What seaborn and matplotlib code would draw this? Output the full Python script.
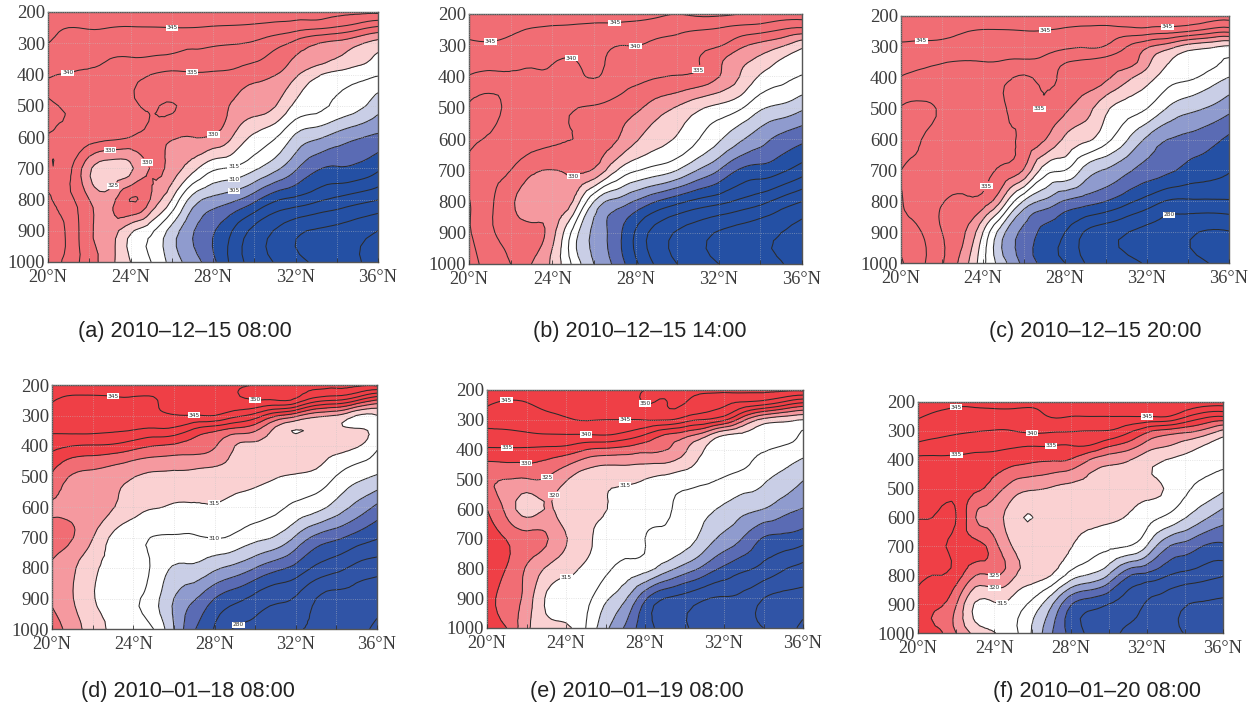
import numpy as np
import matplotlib
matplotlib.use("Agg")
import matplotlib.pyplot as plt
import matplotlib.tri as mtri
import seaborn as sns

# grille commune
lats = list(range(20, 37))
pressures = [200, 250, 300, 350, 400, 500, 600, 700, 800, 900, 1000]

# temperature pseudo-equivalente (K), une ligne par niveau
theta_a = [
    [350,350,350,350,350,350,350,350,350,350,349,348,347,347,346,346,346],
    [347,345,345.3,345,344.7,344.8,345,345,344.5,344.2,343.8,343,342,341,339.5,337,334],
    [345,343.5,343,342.5,342,341.5,341,340.8,340.5,340.2,339.5,337,333.5,330.3,328.5,326,323],
    [342.5,342,341,340,339.7,339.5,339,338.5,338,337.5,336,333,329.5,327.5,324.8,322,319],
    [340.2,339.8,339.5,339.2,337,335,334,334.3,334.2,333.5,331.5,330.2,326,321,318.5,317,315.5],
    [340.5,339.5,338.5,337.5,336,334.5,335.3,333,331.5,329.5,327.5,325.3,319,316.5,314,311.5,307],
    [339.8,338.5,337.5,336.5,335,333,330.5,330,329.5,324.5,319,315.5,309,306,303,300.6,299],
    [339.7,336.5,326,322,324,330.5,328,322,316,314.5,311,306.5,300.8,295.8,294.5,293.9,291],
    [340.6,336.5,330,328,335.3,329.5,320,308,303.5,301,296.5,291,288.7,286.2,284,282,280.2],
    [341.5,339,331,327.5,321,316,308,300.5,295.5,289.5,283.5,279.7,276.2,274.5,273.5,272,270],
    [343.5,338,332.5,326.5,320,315,308,302.5,296.3,288,283.2,279.7,276.8,274.3,272.8,270.5,268],
]
theta_b = [
    [350,350,349.5,349,349,348.5,348,347.5,347,346,345,346,346,345,344,343,343],
    [347,347,346,344.7,344.2,343.8,343.5,343.2,342.8,342,341,340.2,339.5,338,337,335,333.5],
    [344,344.5,343.5,343,342.5,341.5,341.5,340.2,340.1,339,338,336.5,335.5,331.5,328.5,325.8,321.5],
    [342,342,341,340.8,340.3,339.8,340.8,339,338.5,337.5,336.2,335.2,331,326.5,323.5,319.5,317.5],
    [339.8,339.3,339.6,339.5,339.4,339,340.3,338,336.5,335.4,334.8,334,330.2,325,319.5,316.5,314.7],
    [340.3,341,339,338,337,335.3,334.5,333.2,331,327.5,324.5,321,318.5,315.8,310.8,308.8,306],
    [340.8,339.5,338,337,336,335,333.5,330.7,325.8,322,319.5,315.3,310.8,306,302,298.5,296.2],
    [339,337,335,331,329.9,331,329.5,321,315.5,313,310,304.8,300,294.5,293,291,287.5],
    [340.2,336,331,327.5,328.5,324.8,310,303.5,299.5,295,291.5,288.5,286.5,284,281.5,278,275],
    [340.5,336,332.8,331.5,327,313.5,304,297.5,289.5,283,279.5,277,274.5,273,271.5,270,268],
    [342,338,335,330,324,314,305,299,291,284.2,280,277.5,275,273.5,272,270.2,268.5],
]
theta_c = [
    [350,350,350,350,350,350,350,350,350,350,350,349.5,349,348.5,348,347.5,347],
    [347.5,347,346.5,345.3,344.5,344.5,344.8,344.7,344,343.3,343,342.7,342.5,341.7,340,337.5,336],
    [344,343.7,343.5,343,342.7,342.3,342,341.5,340.8,340.3,339.5,335,330.6,327,322.5,320.8,319],
    [342,341,340.2,339.7,339.8,339.5,339,338.5,335.2,334,333,332,326.5,320.3,318.5,316.5,314.5],
    [339.8,339.2,338.8,338.3,336.5,336,334.5,336,334,332.5,331,326.5,322,317.5,316,313,309.8],
    [340.2,340.5,339.5,338,337.5,335.5,334,334.8,331,327,321,317.5,315,309.6,306.5,304.5,301.5],
    [341,340,338.5,337.5,337,335.7,334,330.3,324.2,321,316.5,310.5,304,300,298.5,296.8,294],
    [340,339.3,338.5,337,336.5,334,329.5,317.5,315,308,304.5,301,298,296,293.5,292,290.3],
    [340.2,338,335.3,334,333,323,309.5,304,299.5,297.3,295,291.5,288,284.6,284.2,284.3,284.5],
    [342,340,335,331,320,306,298.7,293.5,290,284.5,282.2,280.2,278.5,277,275.8,274.5,274.7],
    [345.5,341,335.5,328,316.5,306.5,298.5,293.5,290,284.8,283,281.5,279.5,278,276.5,275,273],
]
theta_d = [
    [347.5,348,348,348,348,348,348,348,348.5,349.5,350,350.5,351,351,351,351,351],
    [345.3,344,344,344.3,344.5,344.7,346.5,346.8,347,349,349.9,349.9,348.5,342,340,335.5,329.5],
    [343,343,343,343,343.5,344,344.8,344.8,345,341.5,338,331,326.5,321.5,319.7,314.9,314.8],
    [340.7,341,341,340.5,339.7,338.6,338,333.5,330.5,327.5,325.3,318.5,314.8,315.8,316,316,314],
    [336.5,335,334.5,334,332,330,329,327.5,325.5,320,319,318,317.5,317.3,316.5,315.5,310.8],
    [329.2,324.5,323.5,322,320.2,318.8,318.5,318,317.5,317,316.3,315.3,314.5,313.5,309.8,306.5,304.5],
    [324.5,323.5,322.5,320.3,317,315.3,314.6,314.6,314.8,313.6,312.5,311.2,308.9,306.8,303,298.5,293.9],
    [326.5,325.2,320.2,314,311.5,309.8,309.5,309.5,310.2,309,306.5,304.5,299.3,293.7,291,288,285.5],
    [324.7,321,316,314,312.5,309,304.5,304,301,298.5,295,291.5,288.5,284,281.5,278.5,277],
    [324.5,320.3,315.3,313.5,311,307,300,295.5,290,286.5,283.5,281,279.5,275,273.5,273,271.8],
    [326.5,323,317,314.3,312,310,300,290.5,284.7,279.5,278.5,277.3,275.5,274,272.7,271.5,269],
]
theta_e = [
    [348,348,348,348,348,348.5,349,349.5,350,351,351,351,351,351,351,351,351],
    [345.3,344,344.5,346,346.5,347,347.5,348,349.9,349.9,349.9,347.5,345.5,342.5,340,336,332],
    [341.5,342,342.5,343.5,344.5,345.2,345,345,345.2,345.3,342.5,339.8,336,326,318.5,316.5,315],
    [338.8,338.7,339.3,339.8,339.9,339.9,340.3,338.5,335,330,327.3,322.5,315.5,314,313,312,309.3],
    [334.3,334.4,334.3,333.8,333,330.2,329,328,326.5,325.3,321,315,313,312,310.5,309,307],
    [325.7,325,324.7,324.5,320.5,317,316,316,315,313.5,312.3,311,309.5,308,305.7,303.5,300.3],
    [330,323.5,318,320.3,317,316,315.2,313,312,311,308,306,304.2,301.5,300,297,294.8],
    [332,329.8,327,325.5,320.3,316.5,312.5,311.2,310,309,307.5,303,298.5,294.5,289.5,288.5,287],
    [333,329.8,324.5,319.5,316.5,314,311,308.5,307,302.5,298,293.5,289,286,283.5,280.5,278.5],
    [332,328,323,314.5,313,311.5,306,300.7,291,285,283,280.5,279.5,278.5,275,273.5,273],
    [334,330,321,317.5,316,310,301.3,294.3,287,283.5,280.5,278.8,278,276.5,275,272,269],
]
theta_f = [
    [348,347,345.7,346,346.5,347,347,348,349,349,349,349,349,349,349,348.5,348],
    [345.5,344,343.5,343.3,343.2,343,343,345.3,345,345,345,345,345,345.3,340.8,336.5,335],
    [342.2,341.5,340.8,340.2,339.8,340,340.8,340.6,340.3,340,339.8,336.5,331.5,328.5,326.5,323.8,319],
    [339,338,337.3,337,336.5,335.7,335.3,335.2,335,335,331,328,323,320.5,318,315,312.8],
    [333.9,334,334,333.5,333,332,331,330.5,329.7,325,322,320.5,317,315,313.5,312,311.5],
    [333.5,333.4,333.4,331,327.5,322.5,320.5,319.5,318.5,318,317.5,317,316,314.7,311,308.5,306],
    [334.8,335.5,335,325.2,322,317,314.95,317,316.5,316.2,315.7,314.7,312,309.3,305.3,301,297.2],
    [336.5,336,333.5,331.5,327,319.5,318.5,318,315.3,312.5,311,310,304.8,296,293,289.7,289],
    [336.5,335,332.5,325.2,325.3,321,317.5,315,308,304.5,299.7,291,288.5,285.5,283.5,282,280.4],
    [333,330.8,325.3,314.5,314.5,313,308.5,300.8,290.5,287,285,282.8,279.5,277.5,275.3,274.5,274.2],
    [333,331.2,325,318.5,315.2,311.5,304.5,295.5,288.7,284,281.8,279,278,276,274.9,274,274],
]

captions = ["(a) 2010\u201312\u201315 08:00", "(b) 2010\u201312\u201315 14:00", "(c) 2010\u201312\u201315 20:00",
            "(d) 2010\u201301\u201318 08:00", "(e) 2010\u201301\u201319 08:00", "(f) 2010\u201301\u201320 08:00"]
x_ticks = [20, 24, 28, 32, 36]
x_labels = ["20\u00b0N", "24\u00b0N", "28\u00b0N", "32\u00b0N", "36\u00b0N"]
y_ticks = [200, 300, 400, 500, 600, 700, 800, 900, 1000]

# positions des etiquettes d'isolignes (lat, pression)
labels_a = [(26, 255), (21, 415), (27, 385), (28, 590), (23, 645), (25, 675), (23, 745), (29, 696), (29, 733), (29, 770)]
labels_b = [(27, 230), (21, 272), (25, 322), (28, 310), (31, 380), (25, 718)]
labels_c = [(27, 240), (21, 280), (33, 212), (27, 515), (24, 745), (33, 826)]
labels_d = [(23, 245), (27, 305), (30, 245), (28, 597), (28, 708), (29, 965)]
labels_e = [(21, 238), (28, 247), (27, 310), (25, 350), (21, 390), (22, 440), (23, 490), (23, 545), (27, 535), (24, 855)]
labels_f = [(22, 210), (32, 255), (26, 285), (27, 360), (22, 375), (24, 805), (24, 845), (24.4, 900)]

# bornes des aplats : la ligne du haut et celle du bas n'ont pas la meme echelle
fill_top = [200, 295, 300, 305, 310, 320, 325, 330, 400]
colors_top = ["#2450a4", "#5a6bb4", "#8f9bce", "#c9cee6", "#ffffff", "#fad1d2", "#f5999f", "#f16d74"]
fill_bottom = [200, 290, 295, 300, 305, 315, 320, 325, 330, 400]
colors_bottom = ["#3054a6", "#5a6bb4", "#8f9bce", "#c9cee6", "#ffffff", "#fad1d2", "#f5999f", "#f16d74", "#ef3f46"]
line_levels = list(range(265, 356, 5))

sns.set_theme(style="white")
plt.rcParams["font.family"] = ["Liberation Serif", "DejaVu Serif"]

W, H = 1256, 706
# boites des axes en pixels : gauche, droite, haut, bas
boxes = [(48, 378, 12, 262), (469, 802, 14, 264), (901, 1229, 16, 263),
         (52, 377, 385, 629), (487, 803, 390, 628), (918, 1223, 402, 633)]
caption_pos = [(185, 331), (640, 331), (1095, 331), (188, 691), (637, 691), (1097, 691)]
panels = [theta_a, theta_b, theta_c, theta_d, theta_e, theta_f]
panel_labels = [labels_a, labels_b, labels_c, labels_d, labels_e, labels_f]

fig = plt.figure(figsize=(W / 100, H / 100), dpi=100)
X, Y = np.meshgrid(lats, pressures)
# la pression est remise a l'echelle pour que la triangulation reste reguliere
tri = mtri.Triangulation(X.ravel(), Y.ravel() / 100.0)
refiner = mtri.UniformTriRefiner(tri)

for i, theta in enumerate(panels):
    l, r, t, b = boxes[i]
    ax = fig.add_axes([l / W, 1 - b / H, (r - l) / W, (b - t) / H])
    Z = np.array(theta, dtype=float).ravel()
    fine, fine_z = refiner.refine_field(Z, subdiv=2)
    fine = mtri.Triangulation(fine.x, fine.y * 100.0, fine.triangles)
    top = i < 3
    ax.tricontourf(fine, fine_z, levels=fill_top if top else fill_bottom,
                   colors=sns.color_palette(colors_top if top else colors_bottom))
    cs = ax.tricontour(fine, fine_z, levels=line_levels, colors="#2b2b2b", linewidths=0.75)
    texts = ax.clabel(cs, fmt="%d", fontsize=4.2, inline=True, inline_spacing=1, manual=panel_labels[i])
    for txt in texts:
        txt.set_rotation(0)
        txt.set_family("DejaVu Sans")
        txt.set_bbox(dict(facecolor="white", edgecolor="none", pad=0.4))
    ax.set_xlim(20, 36)
    ax.set_ylim(1000, 200)
    ax.set_xticks(x_ticks, x_labels)
    ax.set_xticks(range(20, 37, 2), minor=True)
    ax.set_yticks(y_ticks)
    ax.tick_params(axis="x", which="both", direction="in", length=3, width=0.6, color="#333333", bottom=True, pad=5)
    ax.tick_params(axis="x", labelsize=13.2, labelcolor="#3c3c3c")
    ax.tick_params(axis="y", labelsize=13.5, labelcolor="#3c3c3c", pad=2, length=0)
    ax.grid(True, which="both", color="#c4c4c4", ls=":", lw=0.6, alpha=0.6)
    ax.set_axisbelow(False)
    for s in ax.spines.values():
        s.set_color("#555555")
        s.set_linewidth(1.0)
    cx, cy = caption_pos[i]
    fig.text(cx / W, 1 - cy / H, captions[i], ha="center", va="center", fontsize=15.6,
             family="Liberation Sans", color="#222222")

fig.savefig("out.png", dpi=100)
